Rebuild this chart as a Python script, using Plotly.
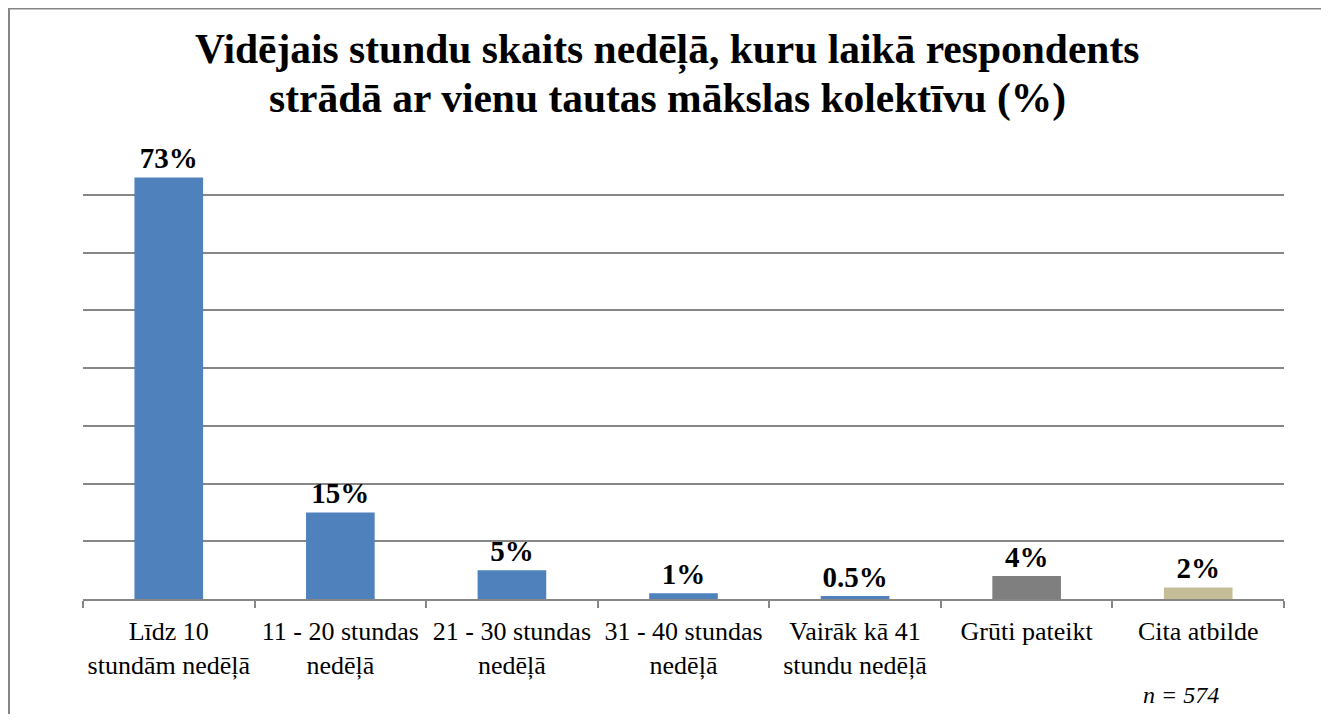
import plotly.graph_objects as go

categories = ["Līdz 10<br>stundām nedēļā", "11 - 20 stundas<br>nedēļā", "21 - 30 stundas<br>nedēļā",
              "31 - 40 stundas<br>nedēļā", "Vairāk kā 41<br>stundu nedēļā", "Grūti pateikt", "Cita atbilde"]
values = [73, 15, 5, 1, 0.5, 4, 2]
labels = ["73%", "15%", "5%", "1%", "0.5%", "4%", "2%"]
colors = ["#4F81BD"] * 5 + ["#7F7F7F", "#C4BD97"]
title_lines = ["Vidējais stundu skaits nedēļā, kuru laikā respondents",
               "strādā ar vienu tautas mākslas kolektīvu (%)"]
note = "n = 574"

OFF = 8  # page body margin
W, H = 1329 - OFF, 722 - 2 * OFF
L, R, T, B = 83 - OFF, 1284 - OFF, 137.3 - OFF, 599 - OFF

def px(x):
    return (x - OFF - L) / (R - L)

def py(y):
    return (B - (y - OFF)) / (B - T)

fig = go.Figure(go.Bar(
    x=categories, y=values, marker=dict(color=colors, line=dict(width=0)),
    text=labels, textposition="outside", cliponaxis=False,
    textfont=dict(family="Liberation Serif", size=29, color="black"),
    texttemplate="<b>%{text}</b>", width=0.4,
))

fig.update_layout(
    width=W, height=H, autosize=False,
    margin=dict(l=L, r=W - R, t=T, b=H - B, pad=0),
    plot_bgcolor="white", paper_bgcolor="white",
    showlegend=False,
    font=dict(family="Liberation Serif", color="black"),
    xaxis=dict(showline=True, linecolor="#868686", linewidth=2, ticks="outside",
               tickson="boundaries", ticklen=7, tickcolor="#868686", tickwidth=2,
               ticklabelstandoff=8, tickangle=0, automargin=False,
               tickfont=dict(family="Liberation Serif", size=26, color="black"),
               showgrid=False),
    yaxis=dict(range=[0, 80], dtick=10, showticklabels=False, showgrid=True, automargin=False,
               gridcolor="#868686", gridwidth=1.5, zeroline=False, showline=False),
)

fig.add_annotation(x=px(667), y=py(50), xref="paper", yref="paper", text="<b>" + title_lines[0] + "</b>",
                   showarrow=False, font=dict(family="Liberation Serif", size=41.5, color="black"),
                   xanchor="center", yanchor="middle")
fig.add_annotation(x=px(667), y=py(99), xref="paper", yref="paper", text="<b>" + title_lines[1] + "</b>",
                   showarrow=False, font=dict(family="Liberation Serif", size=41.5, color="black"),
                   xanchor="center", yanchor="middle")
fig.add_annotation(x=px(1181), y=py(695), xref="paper", yref="paper", text="<i>" + note + "</i>",
                   showarrow=False, font=dict(family="Liberation Serif", size=24, color="black"),
                   xanchor="center", yanchor="middle")

fig.add_shape(type="rect", xref="paper", yref="paper", x0=px(OFF + 1), x1=px(1323), y0=py(760), y1=py(OFF + 1),
              line=dict(color="#868686", width=2), fillcolor="rgba(0,0,0,0)", layer="below")

fig.write_html("out.html")
